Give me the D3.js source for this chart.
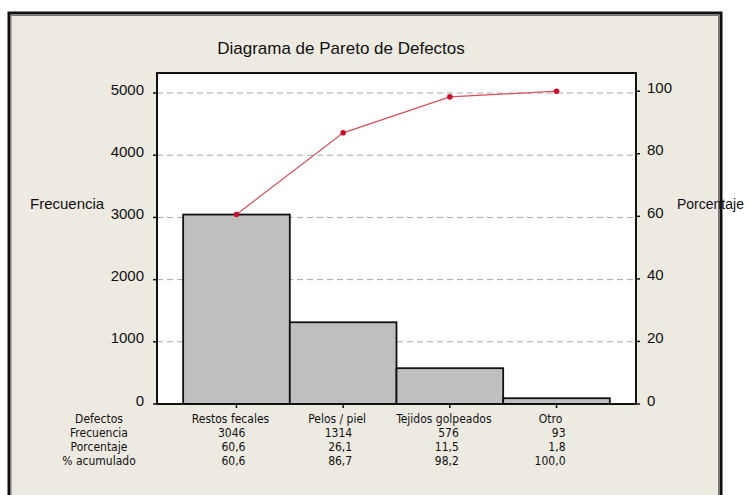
<!DOCTYPE html>
<html lang="es">
<head>
<meta charset="UTF-8">
<title>Diagrama de Pareto de Defectos</title>
<style>
    body { margin: 0; padding: 0; background: #fff; }
    svg { display: block; }
    .axis-label, .tick-label { font-family: Arial, "Liberation Sans", sans-serif; font-size: 15px; fill: #111; }
    .title { font-family: Arial, "Liberation Sans", sans-serif; font-size: 17px; fill: #111; }
    .table-text { font-family: Tahoma, "DejaVu Sans Condensed", "DejaVu Sans", sans-serif; font-size: 12px; fill: #111; }
    .grid { stroke: #a8a8a8; stroke-width: 1px; stroke-dasharray: 6 4; }
</style>
</head>
<body>
<div id="chart"></div>
<script src="https://d3js.org/d3.v7.min.js"></script>
<script>
    // data
    const categories = ["Restos fecales", "Pelos / piel", "Tejidos golpeados", "Otro"];
    const frequencies = [3046, 1314, 576, 93];
    const percentLabels = ["60,6", "26,1", "11,5", "1,8"];
    const cumulativeLabels = ["60,6", "86,7", "98,2", "100,0"];
    const cumulativePercent = [60.6, 86.7, 98.2, 100.0];
    const leftTicks = [0, 1000, 2000, 3000, 4000, 5000];
    const rightTicks = [0, 20, 40, 60, 80, 100];
    const rowLabels = ["Defectos", "Frecuencia", "Porcentaje", "% acumulado"];

    const W = 748, H = 495;
    const plot = { left: 157, right: 636, top: 73, bottom: 404 };
    const total = d3.sum(frequencies);
    const yMax = 5322;

    const svg = d3.select("#chart").append("svg")
        .attr("width", W)
        .attr("height", H);

    // outer frame
    svg.append("rect")
        .attr("x", 9).attr("y", 13)
        .attr("width", 711).attr("height", 500)
        .attr("fill", "#edeae2");
    svg.append("path")
        .attr("d", "M9,500 V13 H721 V500")
        .attr("fill", "none").attr("stroke", "#111").attr("stroke-width", 3);
    svg.append("path")
        .attr("d", "M11,500 V15.5 H718.5 V500")
        .attr("fill", "none").attr("stroke", "#777").attr("stroke-width", 1);

    const y = d3.scaleLinear().domain([0, yMax]).range([plot.bottom, plot.top]);
    const yPct = d3.scaleLinear().domain([0, yMax / total * 100]).range([plot.bottom, plot.top]);
    const x = d3.scaleBand()
        .domain(categories)
        .range([plot.left, plot.right])
        .paddingInner(0)
        .paddingOuter(0.245);

    // plot background
    svg.append("rect")
        .attr("x", plot.left).attr("y", plot.top)
        .attr("width", plot.right - plot.left).attr("height", plot.bottom - plot.top)
        .attr("fill", "#fff");

    // gridlines
    svg.selectAll(".grid")
        .data(leftTicks.filter(d => d > 0))
        .enter().append("line")
        .attr("class", "grid")
        .attr("x1", plot.left).attr("x2", plot.right)
        .attr("y1", d => y(d)).attr("y2", d => y(d));

    // bars
    svg.selectAll(".bar")
        .data(frequencies)
        .enter().append("rect")
        .attr("class", "bar")
        .attr("x", (d, i) => x(categories[i]))
        .attr("y", d => y(d))
        .attr("width", x.bandwidth())
        .attr("height", d => plot.bottom - y(d))
        .attr("fill", "#bfbfbf")
        .attr("stroke", "#111")
        .attr("stroke-width", 1.8);

    // plot border + axes lines
    svg.append("path")
        .attr("d", `M${plot.left},${plot.bottom} V${plot.top} H${plot.right} V${plot.bottom} Z`)
        .attr("fill", "none").attr("stroke", "#111").attr("stroke-width", 2);

    // cumulative line
    const line = d3.line()
        .x((d, i) => x(categories[i]) + x.bandwidth() / 2)
        .y(d => yPct(d));
    svg.append("path")
        .datum(cumulativePercent)
        .attr("d", line)
        .attr("fill", "none")
        .attr("stroke", "#d4505a")
        .attr("stroke-width", 1.2);
    svg.selectAll(".dot")
        .data(cumulativePercent)
        .enter().append("circle")
        .attr("class", "dot")
        .attr("cx", (d, i) => x(categories[i]) + x.bandwidth() / 2)
        .attr("cy", d => yPct(d))
        .attr("r", 2.8)
        .attr("fill", "#c8102e");

    // left axis
    const leftAxis = svg.append("g");
    leftAxis.selectAll("line")
        .data(leftTicks).enter().append("line")
        .attr("x1", plot.left - 4).attr("x2", plot.left)
        .attr("y1", d => y(d)).attr("y2", d => y(d))
        .attr("stroke", "#111").attr("stroke-width", 1.5);
    leftAxis.selectAll("text")
        .data(leftTicks).enter().append("text")
        .attr("class", "tick-label")
        .attr("x", plot.left - 13)
        .attr("y", d => y(d))
        .attr("dy", "0.1em")
        .attr("text-anchor", "end")
        .text(d => d);

    // right axis
    const rightAxis = svg.append("g");
    rightAxis.selectAll("line")
        .data(rightTicks).enter().append("line")
        .attr("x1", plot.right).attr("x2", plot.right + 4)
        .attr("y1", d => yPct(d)).attr("y2", d => yPct(d))
        .attr("stroke", "#111").attr("stroke-width", 1.5);
    rightAxis.selectAll("text")
        .data(rightTicks).enter().append("text")
        .attr("class", "tick-label")
        .attr("x", plot.right + 11)
        .attr("y", d => yPct(d))
        .attr("dy", "0.1em")
        .attr("text-anchor", "start")
        .text(d => d);

    // bottom ticks at bar centres
    svg.selectAll(".xtick")
        .data(categories).enter().append("line")
        .attr("x1", d => x(d) + x.bandwidth() / 2)
        .attr("x2", d => x(d) + x.bandwidth() / 2)
        .attr("y1", plot.bottom).attr("y2", plot.bottom + 4)
        .attr("stroke", "#111").attr("stroke-width", 1.5);

    // titles
    svg.append("text").attr("class", "title")
        .attr("x", 341).attr("y", 54)
        .attr("text-anchor", "middle")
        .text("Diagrama de Pareto de Defectos");
    svg.append("text").attr("class", "axis-label")
        .attr("x", 30).attr("y", 209)
        .text("Frecuencia");
    svg.append("text").attr("class", "axis-label")
        .attr("x", 677).attr("y", 209)
        .style("font-size", "14px")
        .text("Porcentaje");

    // table below the chart
    const rowY = [423, 437, 451, 465];
    svg.selectAll(".row-label")
        .data(rowLabels).enter().append("text")
        .attr("class", "table-text")
        .attr("x", 99)
        .attr("y", (d, i) => rowY[i])
        .attr("text-anchor", "middle")
        .text(d => d);

    const rows = [frequencies.map(String), percentLabels, cumulativeLabels];
    svg.selectAll(".cat-label")
        .data(categories).enter().append("text")
        .attr("class", "table-text")
        .attr("x", d => x(d) + x.bandwidth() / 2 - 6)
        .attr("y", rowY[0])
        .attr("text-anchor", "middle")
        .text(d => d);
    rows.forEach((row, r) => {
        svg.selectAll(".cell-" + r)
            .data(row).enter().append("text")
            .attr("class", "table-text")
            .attr("x", (d, i) => x(categories[i]) + x.bandwidth() / 2 + 9)
            .attr("y", rowY[r + 1])
            .attr("text-anchor", "end")
            .text(d => d);
    });
</script>
</body>
</html>
